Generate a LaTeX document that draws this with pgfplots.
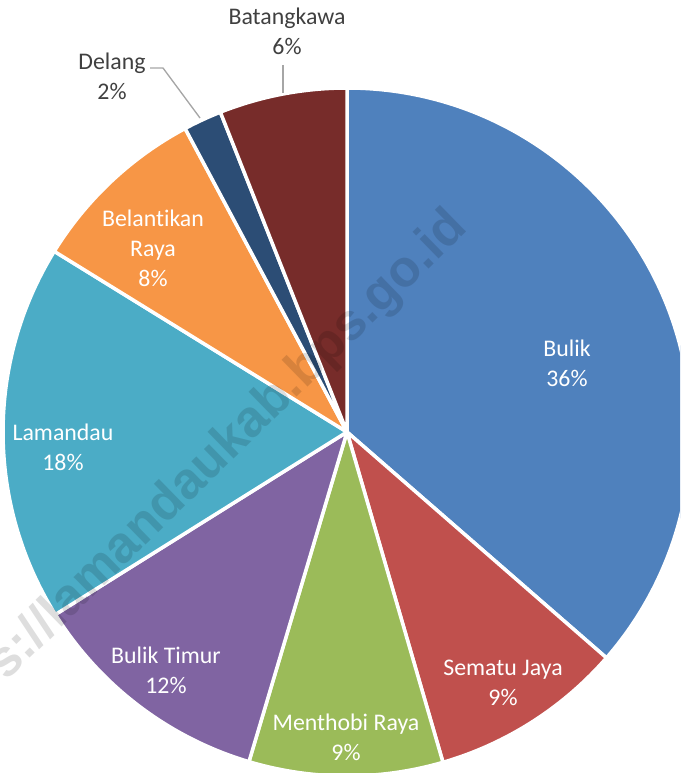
\documentclass[border=0pt]{standalone}
\usepackage{pgfplots}
\pgfplotsset{compat=1.18}
\usepackage{fontspec}
\setmainfont{Carlito}[Ligatures=NoCommon]
\newfontfamily\wmfont{Liberation Sans}
\definecolor{cBulik}{HTML}{4F81BD}
\definecolor{cSematu}{HTML}{C0504D}
\definecolor{cMenthobi}{HTML}{9BBB59}
\definecolor{cTimur}{HTML}{8064A2}
\definecolor{cLamandau}{HTML}{4BACC6}
\definecolor{cBelantikan}{HTML}{F79646}
\definecolor{cDelang}{HTML}{2C4D75}
\definecolor{cBatang}{HTML}{772C2A}
\definecolor{lblgray}{HTML}{404040}
\definecolor{leader}{HTML}{A6A6A6}
% slice: start (percent), value (percent), colour
\newcommand{\slice}[3]{%
  \fill[#3,draw=white,line width=2.1pt,line join=round]
    (axis cs:347,341) -- +({90-3.6*(#1)}:206.4pt)
    arc[start angle={90-3.6*(#1)}, end angle={90-3.6*(#1+#2)}, radius=206.4pt] -- cycle;}
\begin{document}
\begin{tikzpicture}
\path[use as bounding box] (0,0) rectangle (408pt,463.8pt);
\begin{axis}[
  at={(0,0)}, anchor=south west,
  x=0.6pt, y=0.6pt,
  xmin=0, xmax=680, ymin=0, ymax=773,
  hide axis, clip=true,
]
% values (percent): Bulik 36.4, Sematu Jaya 9.1, Menthobi Raya 9.1, Bulik Timur 11.5,
% Lamandau 17.7, Belantikan Raya 8.4, Delang 1.8, Batangkawa 6.0
\slice{0}{36.4}{cBulik}
\slice{36.4}{9.1}{cSematu}
\slice{45.5}{9.1}{cMenthobi}
\slice{54.6}{11.5}{cTimur}
\slice{66.1}{17.7}{cLamandau}
\slice{83.8}{8.4}{cBelantikan}
\slice{92.2}{1.8}{cDelang}
\slice{94.0}{6.0}{cBatang}
% leader lines
\draw[leader, line width=0.8pt] (axis cs:150,705) -- (axis cs:163,705) -- (axis cs:200,655);
\draw[leader, line width=0.8pt] (axis cs:283,708) -- (axis cs:283,680);
% labels
\tikzset{lbl/.style={align=center, inner sep=0pt, font=\fontsize{14.3}{18}\selectfont}}
\node[lbl, white] at (axis cs:567,410) {Bulik\\36\%};
\node[lbl, white] at (axis cs:503,90) {Sematu Jaya\\9\%};
\node[lbl, white] at (axis cs:346,35.5) {Menthobi Raya\\9\%};
\node[lbl, white] at (axis cs:166,103) {Bulik Timur\\12\%};
\node[lbl, white] at (axis cs:63,326) {Lamandau\\18\%};
\node[lbl, white] at (axis cs:153,525) {Belantikan\\Raya\\8\%};
\node[lbl, lblgray] at (axis cs:112,697) {Delang\\2\%};
\node[lbl, lblgray] at (axis cs:287,742) {Batangkawa\\6\%};
% watermark
\node[anchor=east, rotate=44.3, inner sep=0pt, text=black, text opacity=0.13,
      font=\wmfont\bfseries\fontsize{30.9}{31}\selectfont] at (axis cs:460,553) {https://lamandaukab.bps.go.id};
\end{axis}
\end{tikzpicture}
\end{document}
